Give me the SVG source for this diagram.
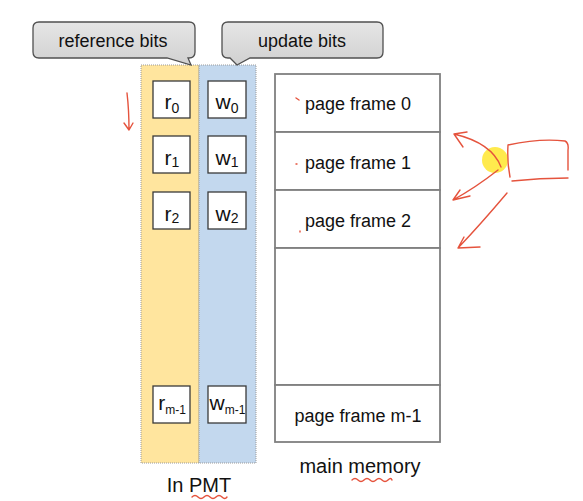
<svg xmlns="http://www.w3.org/2000/svg" width="583" height="501" viewBox="0 0 583 501">
<defs>
<linearGradient id="callg" x1="0" y1="0" x2="0" y2="1">
<stop offset="0" stop-color="#E6E6E6"/>
<stop offset="1" stop-color="#D0D0D0"/>
</linearGradient>
<style>
text{font-family:"Liberation Sans",Arial,sans-serif;fill:#111}
.call{fill:url(#callg);stroke:#505050;stroke-width:1.3}
.col{stroke:#9a9a9a;stroke-width:1;stroke-dasharray:1,1}
.cell{fill:#fff;stroke:#3a3a3a;stroke-width:1.3}
.frame{fill:#fff;stroke:#808080;stroke-width:1.8}
.lbl{font-size:18px;text-anchor:middle}
.bit{font-size:21px;text-anchor:middle}
.sub{font-size:14px}
.subm{font-size:12px}
.red{fill:none;stroke:#E5533D;stroke-width:1.4;stroke-linecap:round;stroke-linejoin:round}
</style>
</defs>
<rect width="583" height="501" fill="#fff"/>

<g id="ref-column"><rect class="col" x="141" y="65" width="58" height="398" fill="#FFE59E"/></g>
<g id="upd-column"><rect class="col" x="199" y="65" width="57" height="398" fill="#C3D8EE"/></g>

<g id="callout-reference">
<path class="call" d="M39,22 H189 Q195,22 195,28 V52 Q195,58 189,58 H188 L191,65 L167,58 H39 Q33,58 33,52 V28 Q33,22 39,22 Z"/>
<text class="lbl" x="113" y="47">reference bits</text>
</g>
<g id="callout-update">
<path class="call" d="M228,22 H377 Q383,22 383,28 V52 Q383,58 377,58 H250 L237,65 L230,58 H228 Q222,58 222,52 V28 Q222,22 228,22 Z"/>
<text class="lbl" x="302" y="47">update bits</text>
</g>

<g id="r0"><rect class="cell" x="153" y="81" width="37" height="37"/><text class="bit" x="172" y="109">r<tspan class="sub" dy="3.5">0</tspan></text></g>
<g id="w0"><rect class="cell" x="208" y="81" width="38" height="37"/><text class="bit" x="227" y="109">w<tspan class="sub" dy="3.5">0</tspan></text></g>
<g id="r1"><rect class="cell" x="153" y="136" width="37" height="37"/><text class="bit" x="172" y="165">r<tspan class="sub" dy="2">1</tspan></text></g>
<g id="w1"><rect class="cell" x="208" y="136" width="38" height="37"/><text class="bit" x="227" y="165">w<tspan class="sub" dy="2">1</tspan></text></g>
<g id="r2"><rect class="cell" x="153" y="192" width="37" height="37"/><text class="bit" x="172" y="221">r<tspan class="sub" dy="2">2</tspan></text></g>
<g id="w2"><rect class="cell" x="208" y="192" width="38" height="37"/><text class="bit" x="227" y="221">w<tspan class="sub" dy="2">2</tspan></text></g>
<g id="rm1"><rect class="cell" x="153" y="386" width="37" height="37"/><text class="bit" x="172" y="410">r<tspan class="subm" dy="3.5">m-1</tspan></text></g>
<g id="wm1"><rect class="cell" x="208" y="386" width="38" height="37"/><text class="bit" x="227.5" y="410">w<tspan class="subm" dy="3.5">m-1</tspan></text></g>

<g id="frame0"><rect class="frame" x="275" y="74" width="165" height="58"/><text class="lbl" x="358" y="110">page frame 0</text></g>
<g id="frame1"><rect class="frame" x="275" y="132" width="165" height="58"/><text class="lbl" x="358" y="169">page frame 1</text></g>
<g id="frame2"><rect class="frame" x="275" y="190" width="165" height="58"/><text class="lbl" x="358" y="227">page frame 2</text></g>
<g id="frame-gap"><rect class="frame" x="275" y="248" width="165" height="137"/></g>
<g id="frame-m1"><rect class="frame" x="275" y="385" width="165" height="57"/><text class="lbl" x="358" y="422">page frame m-1</text></g>

<g id="label-pmt"><text x="199" y="492" font-size="20" text-anchor="middle">In PMT</text></g>
<g id="label-memory"><text x="360" y="473" font-size="20" text-anchor="middle">main memory</text></g>

<g id="connectors">
<circle cx="495" cy="160" r="13" fill="#FFE83A" opacity="0.9"/>
<path class="red" d="M127,93 Q129,110 129,130 M124,123 L129,130 L133,123"/>
<path class="red" d="M501,167 Q492,143 454,134 M467,132 L454,134 L463,147"/>
<path class="red" d="M508,145 Q507,162 510,177 M508,145 Q540,138 565,141 Q569,143 568,150 L568,170 M512,181 Q540,178 568,178"/>
<path class="red" d="M498,170 Q475,188 453,200 M460,190 L453,200 L470,196"/>
<path class="red" d="M507,193 Q480,225 458,248 M464,237 L458,248 L480,247"/>
<path class="red" d="M296,98 L299,100 M296,164 L297,164 M300,231 L300,232"/>
<path class="red" stroke-width="1.1" d="M192,497 q3,-3 6,0 t6,0 t6,0 t6,0 t6,0 t5,0"/>
<path class="red" stroke-width="1.1" d="M352,480 q3,-3 6,0 t6,0 t6,0 t6,0 t6,0 t6,0 t4,0"/>
</g>
</svg>
